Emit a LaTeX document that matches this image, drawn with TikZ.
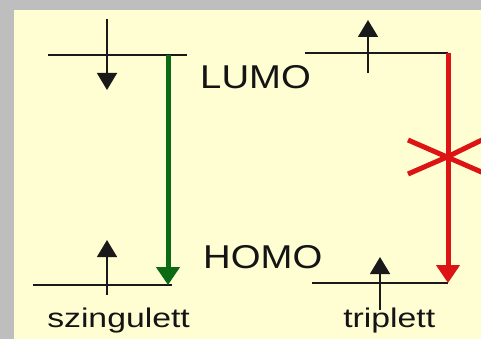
\documentclass[tikz,border=0pt]{standalone}
\usepackage{fontspec}
\setmainfont{Liberation Sans}
\usetikzlibrary{arrows.meta,positioning}
\definecolor{hlFrame}{HTML}{BEBEBE}
\definecolor{hlPaper}{HTML}{FFFDD2}
\definecolor{hlGreen}{HTML}{0B6A14}
\definecolor{hlRed}{HTML}{DC1414}

\begin{document}
\begin{tikzpicture}[x=1pt, y=-1pt,
  level/.style={line width=1.6pt, color=black!90},
  spin/.style={line width=1.6pt, color=black!90, -{Triangle[width=20pt, length=17pt]}},
  trans/.style={line width=5pt, -{Triangle[width=23pt, length=18pt]}},
  orb/.style={font=\fontsize{33}{36}\selectfont, xscale=1.16, inner sep=0pt, anchor=base west, text=black!92},
  kind/.style={font=\fontsize{27}{29}\selectfont, xscale=1.25, inner sep=0pt, anchor=base west, text=black!92}]
  % frame and paper
  \useasboundingbox (0,0) rectangle (481,339);
  \fill[hlFrame] (0,0) rectangle (481,339);
  \fill[hlPaper] (14,10) rectangle (481,339);

  % energy levels
  \coordinate (sL1) at (48,55);   \coordinate (sL2) at (187,55);
  \coordinate (sH1) at (33,285);  \coordinate (sH2) at (172,285);
  \coordinate (tL1) at (305,53);  \coordinate (tL2) at (448,53);
  \coordinate (tH1) at (312,283); \coordinate (tH2) at (448,283);
  \foreach \a/\b in {sL1/sL2, sH1/sH2, tL1/tL2, tH1/tH2}
    \draw[level] (\a) -- (\b);

  % electron spins
  \foreach \n/\x/\ya/\yb in {sUp/107/19/90, sDn/107/295/240, tUp/368/73/20, tDn/380/310/257}{
    \coordinate (\n-a) at (\x,\ya);
    \coordinate (\n-b) at (\x,\yb);
    \draw[spin] (\n-a) -- (\n-b);
  }

  % transitions
  \coordinate (sTop) at (168,55);  \coordinate (sBot) at (168,285);
  \draw[trans, hlGreen] (sTop) -- (sBot);
  \draw[trans, hlRed] (tL2) -- (tH2);
  \coordinate (xC) at (447,157);
  \draw[line width=5pt, hlRed] (408,140) -- (xC) -- (486,174);
  \draw[line width=5pt, hlRed] (408,174) -- (xC) -- (486,138);

  % labels
  \node[orb] (lumo) at (200,89) {LUMO};
  \node[orb] (homo) at (203,268) {HOMO};
  \node[kind] (szing) at (47,327) {szingulett};
  \node[kind] (tripl) at (343,327) {triplett};
\end{tikzpicture}
\end{document}
